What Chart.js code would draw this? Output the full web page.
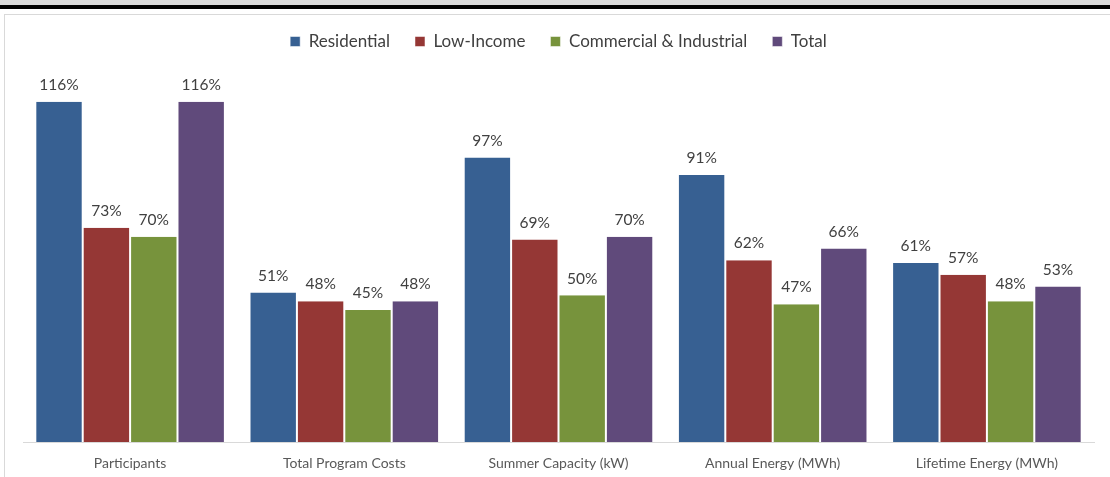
<!DOCTYPE html>
<html>
<head>
<meta charset="utf-8">
<script src="https://cdn.jsdelivr.net/npm/chart.js@4.4.0/dist/chart.umd.min.js"></script>
<style>
  body { margin: 0; background: #fff; }
  #wrap { position: relative; width: 1110px; height: 477px; }
  #topGray { position: absolute; left: 0; top: 0; width: 1110px; height: 5px; background: #d9d9d9; }
  #topBlack { position: absolute; left: 0; top: 5px; width: 1110px; height: 4px; background: #000; }
  #frame { position: absolute; left: 4px; top: 14px; width: 1120px; height: 480px; border-left: 1px solid #d9d9d9; border-top: 1px solid #d9d9d9; }
  canvas { position: absolute; left: 0; top: 0; }
</style>
</head>
<body>
<div id="wrap">
  <canvas id="chart" width="1110" height="477"></canvas>
  <div id="topGray"></div>
  <div id="topBlack"></div>
  <div id="frame"></div>
</div>
<script>
const categories = ['Participants', 'Total Program Costs', 'Summer Capacity (kW)', 'Annual Energy (MWh)', 'Lifetime Energy (MWh)'];
const seriesNames = ['Residential', 'Low-Income', 'Commercial & Industrial', 'Total'];
const residential = [116, 51, 97, 91, 61];
const lowIncome = [73, 48, 69, 62, 57];
const commercial = [70, 45, 50, 47, 48];
const total = [116, 48, 70, 66, 53];
const colors = ['#376092', '#953735', '#77933c', '#604a7b'];

const fontFamily = 'Lato, "Open Sans", sans-serif';

// percentage labels above each bar
const barLabels = {
    id: 'barLabels',
    afterDatasetsDraw(chart) {
        const ctx = chart.ctx;
        ctx.save();
        ctx.font = '15.5px ' + fontFamily;
        ctx.fillStyle = '#404040';
        ctx.textAlign = 'center';
        ctx.textBaseline = 'bottom';
        chart.data.datasets.forEach((ds, i) => {
            chart.getDatasetMeta(i).data.forEach((bar, j) => {
                ctx.fillText(ds.data[j] + '%', bar.x, bar.y - 9);
            });
        });
        ctx.restore();
    }
};

// extra room under the legend
const legendGap = {
    id: 'legendGap',
    beforeInit(chart) {
        const fit = chart.legend.fit;
        chart.legend.fit = function () {
            fit.bind(chart.legend)();
            this.height += 30;
        };
    }
};

const seriesData = [residential, lowIncome, commercial, total];

new Chart(document.getElementById('chart'), {
    type: 'bar',
    data: {
        labels: categories,
        datasets: seriesNames.map((name, i) => ({
            label: name,
            data: seriesData[i],
            backgroundColor: colors[i],
            borderColor: '#ffffff',
            borderWidth: { left: 1, right: 1, top: 0, bottom: 0 },
            borderSkipped: false,
            barPercentage: 1.0,
            categoryPercentage: 0.885
        }))
    },
    options: {
        responsive: false,
        animation: false,
        layout: { padding: { left: 23, right: 16, top: 8, bottom: 1 } },
        plugins: {
            legend: {
                position: 'top',
                labels: {
                    boxWidth: 10,
                    boxHeight: 10,
                    padding: 25,
                    color: '#404040',
                    font: { family: fontFamily, size: 17 }
                }
            },
            tooltip: { enabled: false }
        },
        scales: {
            x: {
                grid: { display: false },
                border: { color: '#d9d9d9', width: 1 },
                ticks: { color: '#595959', font: { family: fontFamily, size: 14, lineHeight: 1 }, padding: 6 }
            },
            y: {
                display: false,
                min: 0,
                max: 120
            }
        }
    },
    plugins: [barLabels, legendGap]
});
</script>
</body>
</html>
